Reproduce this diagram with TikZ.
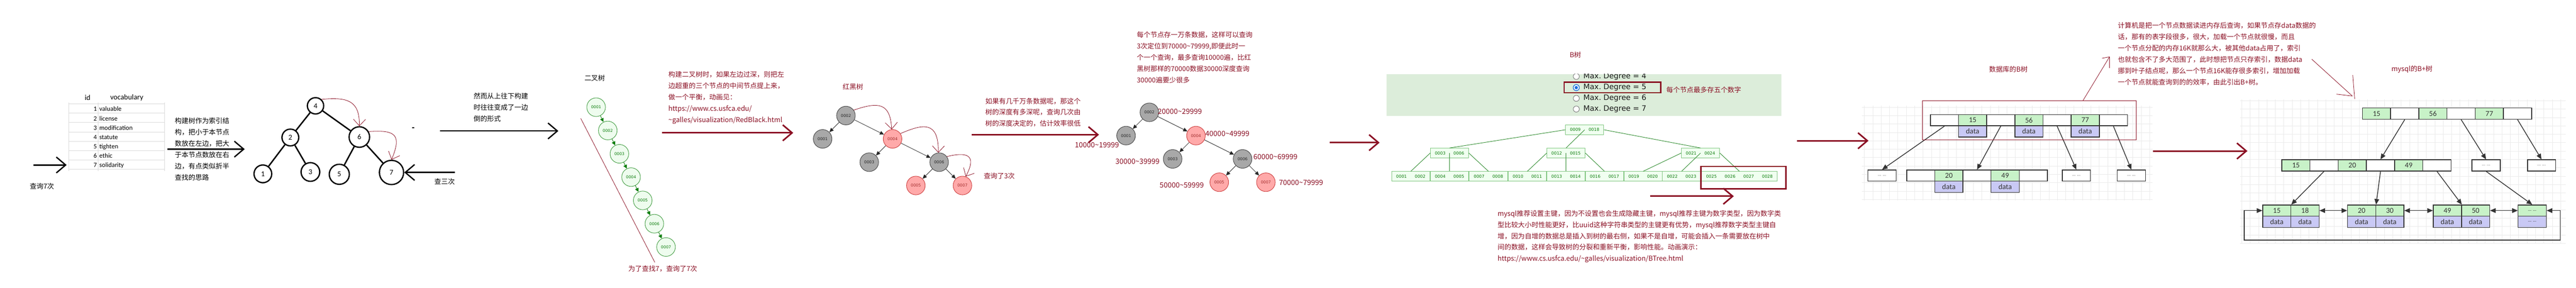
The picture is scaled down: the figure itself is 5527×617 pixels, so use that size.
\documentclass[tikz,border=0pt]{standalone}
\usepackage{fontspec}
\setmainfont{Noto Sans CJK SC}
\newfontfamily\carl{Carlito}
\newfontfamily\dvs{DejaVu Sans}
\usetikzlibrary{arrows.meta}
\definecolor{dr}{HTML}{8B1024}
\definecolor{gfill}{HTML}{EEFCEE}
\definecolor{gline}{HTML}{3C9A3C}
\definecolor{gtext}{HTML}{0B7D0B}
\definecolor{rbgray}{HTML}{A8A8A8}
\definecolor{rbred}{HTML}{FFA9A9}
\definecolor{rbredl}{HTML}{CC3A3A}
\definecolor{panel}{HTML}{DCEDDA}
\definecolor{bfill}{HTML}{F0FFF0}
\definecolor{bline}{HTML}{80C680}
\definecolor{bedgec}{HTML}{2E8B2E}
\definecolor{kgreen}{HTML}{C8F2C8}
\definecolor{dlav}{HTML}{C9C9F5}
\definecolor{cellb}{HTML}{333333}
\definecolor{tabl}{HTML}{DADADA}
\definecolor{radiob}{HTML}{1A6FE0}
\newcommand\bk[1]{\makebox[40pt]{#1}}
\newcommand\paralines[5]{\foreach \tx [count=\i from 0] in {#5}{\node[ptxt,text=#4] (#1-\i) at (#2,{#3+24.3*\i}) {\tx};}}
\tikzset{
 ptxt/.style={inner sep=0pt, anchor=west, text height=12.6pt, text depth=2.2pt, font=\fontsize{14.6}{17}\selectfont},
 lbl/.style={inner sep=0pt, font=\fontsize{14.6}{17}\selectfont},
 rlbl/.style={lbl, text=dr},
 rng/.style={inner sep=0pt, anchor=west, text=dr, font=\fontsize{15.5}{18}\selectfont},
 karrow/.style={draw=black, line width=2.8pt, -{Straight Barb[length=20pt,width=34pt]}},
 rarrow/.style={draw=dr, line width=3.3pt, -{Straight Barb[length=20pt,width=34pt]}},
 thinr/.style={draw=dr, line width=0.9pt},
 rcurve/.style={draw=dr, line width=0.9pt, -{Straight Barb[length=14pt,width=26pt]}},
 tnode/.style={circle, draw=black, line width=2.8pt, inner sep=0pt, minimum size=#1, font=\carl\fontsize{16}{16}\selectfont},
 tedge/.style={draw=black, line width=3pt},
 hdr/.style={inner sep=0pt, font=\carl\fontsize{16}{18}\selectfont},
 tcell/.style={inner sep=0pt, text height=9.5pt, text depth=0pt, font=\carl\fontsize{14}{16}\selectfont},
 tline/.style={draw=tabl, line width=1pt},
 chain/.style={circle, draw=gline, fill=gfill, line width=1pt, minimum size=40pt, inner sep=0pt, text=gtext, font=\dvs\fontsize{8.5}{9}\selectfont},
 carrow/.style={draw=gtext, line width=1pt, -{Triangle[length=8pt,width=8pt]}},
 rbg/.style={circle, draw=black!75, fill=rbgray, line width=1pt, minimum size=40pt, inner sep=0pt, text=black!85, font=\dvs\fontsize{8.5}{9}\selectfont},
 rbr/.style={rbg, draw=rbredl, fill=rbred, text=rbredl!80!black},
 rbe/.style={draw=black!85, line width=0.9pt, -{Triangle[length=9pt,width=8pt]}},
 radio/.style={circle, draw=black!55, fill=white, line width=1pt, minimum size=13pt, inner sep=0pt},
 radtxt/.style={inner sep=0pt, anchor=west, text=black!90, font=\dvs\fontsize{16}{18}\selectfont},
 bt/.style={draw=bline, fill=bfill, line width=1pt, inner xsep=1pt, inner ysep=0pt, minimum height=21pt, text=gtext, font=\dvs\fontsize{9}{10}\selectfont},
 bedge/.style={draw=bedgec, line width=1pt},
 redbox/.style={draw=dr, line width=3.2pt},
 gridl/.style={draw=black!8, line width=0.8pt},
 dcell/.style={draw=cellb, line width=1.6pt, minimum width=60.4pt, minimum height=24pt, inner sep=0pt, anchor=north west, text=black!80, font=\carl\fontsize{16}{16}\selectfont},
 kc/.style={dcell, fill=kgreen},
 dc/.style={dcell, fill=dlav},
 wc/.style={dcell, fill=white},
 dots/.style={wc, font=\carl\fontsize{10}{10}\selectfont, text=black!60},
 dar/.style={draw=cellb, line width=1.6pt, -{Triangle[length=12pt,width=10pt]}},
 dar2/.style={draw=cellb, line width=1.6pt, {Triangle[length=12pt,width=10pt]}-{Triangle[length=12pt,width=10pt]}}
}
\begin{document}
\begin{tikzpicture}[x=1pt,y=-1pt]
\useasboundingbox (0,0) rectangle (5527,617);
\fill[white] (0,0) rectangle (5527,617);

% ---------------- table ----------------
\foreach \yy in {223,243,...,363} \draw[tline] (147,\yy) -- (353,\yy);
\foreach \xx in {147,211,353} \draw[tline] (\xx,220) -- (\xx,367);
\node[hdr] (hid) at (188,210) {id};
\node[hdr] (hvoc) at (272,210) {vocabulary};
\foreach \nn/\ww [count=\i from 0] in {1/valuable,2/license,3/modification,4/statute,5/tighten,6/ethic,7/solidarity}{
  \node[tcell,anchor=east] (tn\nn) at (208,{234+20*\i}) {\nn};
  \node[tcell,anchor=west] (tw\nn) at (213,{234+20*\i}) {\ww};}
\coordinate (a1s) at (72,354); \coordinate (a1e) at (143,354);
\draw[karrow] (a1s) -- (a1e);
\node[lbl] (q7) at (90,400) {查询7次};

% ---------------- BST ----------------
\paralines{pbst}{375}{260}{black}{构建树作为索引结,构，把小于本节点,数放在左边，把大,于本节点数放在右,边，有点类似折半,查找的思路}
\coordinate (a2s) at (359,320); \coordinate (a2e) at (525,320);
\draw[karrow] (a2s) -- (a2e);
\node[tnode=35pt] (n4) at (677,227) {4};
\node[tnode=36pt] (n2) at (623,295) {2};
\node[tnode=44pt] (n6) at (771,294) {6};
\node[tnode=38pt] (n1) at (564,373) {1};
\node[tnode=40pt] (n3) at (666,369) {3};
\node[tnode=43pt] (n5) at (728,374) {5};
\node[tnode=52pt] (n7) at (840,370) {7};
\foreach \a/\b in {4/2,4/6,2/1,2/3,6/5,6/7} \draw[tedge] (n\a) -- (n\b);
\draw[rcurve] (n4.47) .. controls (745,208) and (772,215) .. (n6.north);
\draw[rcurve] (n6.30) .. controls (850,278) and (862,290) .. (n7.north);
\fill (884,272.5) rectangle (889,275.5);
\coordinate (a3s) at (976,370);
\draw[karrow] (a3s) -- (n7.east);
\node[lbl] (q3) at (954,390) {查三次};

% ---------------- degenerate chain ----------------
\paralines{ptop}{1016}{206}{black}{然而从上往下构建,时往往变成了一边,倒的形式}
\coordinate (a4s) at (944,281); \coordinate (a4e) at (1198,281);
\draw[karrow] (a4s) -- (a4e);
\node[lbl] (bt2) at (1276,168) {二叉树};
\foreach \k in {1,...,7} \node[chain] (c\k) at ({1279+25*(\k-1)},{230+50*(\k-1)}) {000\k};
\foreach \a/\b in {1/2,2/3,3/4,4/5,5/6,6/7} \draw[carrow] (c\a) -- (c\b);
\coordinate (rl1) at (1246,254); \coordinate (rl2) at (1405,563);
\draw[thinr] (rl1) -- (rl2);
\node[rlbl] (q77) at (1422,577) {为了查找7，查询了7次};

% ---------------- red-black tree 1 ----------------
\paralines{prb}{1434}{160}{dr}{构建二叉树时，如果左边过深，则把左,边超重的三个节点的中间节点提上来，,做一个平衡，动画见：,https://www.cs.usfca.edu/,\textasciitilde galles/visualization/RedBlack.html}
\coordinate (a5s) at (1420,285); \coordinate (a5e) at (1702,285);
\draw[rarrow] (a5s) -- (a5e);
\node[rlbl] (rbt) at (1830,186) {红黑树};
\node[rbg] (r2) at (1815,248) {0002};
\node[rbg] (r1) at (1765,298) {0001};
\node[rbr] (r4) at (1915,298) {0004};
\node[rbg] (r3) at (1865,348) {0003};
\node[rbg] (r6) at (2015,348) {0006};
\node[rbr] (r5) at (1965,398) {0005};
\node[rbr] (r7) at (2065,398) {0007};
\draw[rcurve] (r2.35) .. controls (1885,218) and (1910,220) .. (r4.95);
\draw[rcurve] (r4.34) .. controls (1980,266) and (2014,258) .. (r6.95);
\draw[rcurve] (r6.36) .. controls (2072,326) and (2098,330) .. (r7.70);
\node[rlbl] (q3b) at (2144,377) {查询了3次};

% ---------------- red-black tree 2 ----------------
\coordinate (a6s) at (2085,289); \coordinate (a6e) at (2358,289);
\draw[rarrow] (a6s) -- (a6e);
\paralines{pdeep}{2114}{217}{dr}{如果有几千万条数据呢，那这个,树的深度有多深呢，查询几次由,树的深度决定的，估计效率很低}
\paralines{pten}{2439}{75}{dr}{每个节点存一万条数据，这样可以查询,{3次定位到70000\textasciitilde 79999,即便此时一},个一个查询，最多查询10000遍，比红,黑树那样的70000数据30000深度查询,30000遍要少很多}
\node[rbg] (s2) at (2466,241) {0002};
\node[rbg] (s1) at (2416,291) {0001};
\node[rbr] (s4) at (2566,291) {0004};
\node[rbg] (s3) at (2516,341) {0003};
\node[rbg] (s6) at (2666,341) {0006};
\node[rbr] (s5) at (2616,391) {0005};
\node[rbr] (s7) at (2716,391) {0007};
\foreach \a/\b in {2/1,2/4,4/3,4/6,6/5,6/7} {\draw[rbe] (r\a) -- (r\b); \draw[rbe] (s\a) -- (s\b);}
\node[rng] (g2) at (2484,239) {20000\textasciitilde 29999};
\node[rng] (g1) at (2306,311) {10000\textasciitilde 19999};
\node[rng] (g3) at (2393,346) {30000\textasciitilde 39999};
\node[rng] (g4) at (2586,287) {40000\textasciitilde 49999};
\node[rng] (g5) at (2488,397) {50000\textasciitilde 59999};
\node[rng] (g6) at (2689,337) {60000\textasciitilde 69999};
\node[rng] (g7) at (2744,392) {70000\textasciitilde 79999};
\coordinate (a7s) at (2853,306); \coordinate (a7e) at (2960,306);
\draw[rarrow] (a7s) -- (a7e);

% ---------------- B tree ----------------
\node[rlbl] (btl) at (3380,118) {B树};
\begin{scope}
\clip (2975,159) rectangle (3822,249);
\fill[panel] (2975,159) rectangle (3822,249);
\foreach \d/\yy in {4/164,5/188,6/211,7/234}{
  \node[radio] (o\d) at (3382,\yy) {};
  \node[radtxt] (ot\d) at (3397,\yy) {Max.\ Degree = \d};}
\node[circle, draw=radiob, fill=white, line width=1.4pt, minimum size=13pt, inner sep=0pt] (o5b) at (o5) {};
\node[circle, fill=radiob, minimum size=7pt, inner sep=0pt] (o5c) at (o5) {};
\end{scope}
\draw[redbox] (3356,176) rectangle (3563,199);
\node[ptxt, text=dr] (max5) at (3575,193) {每个节点最多存五个数字};
\node[bt] (R) at (3400,278.5) {\bk{0009}\bk{0018}};
\node[bt] (I1) at (3110,328.5) {\bk{0003}\bk{0006}};
\node[bt] (I2) at (3360,328.5) {\bk{0012}\bk{0015}};
\node[bt] (I3) at (3648.5,328.5) {\bk{0021}\bk{0024}};
\foreach \nm/\xx/\ka/\kb in {L1/3027/0001/0002,L2/3110/0004/0005,L3/3193.5/0007/0008,L4/3277/0010/0011,L5/3360/0013/0014,L6/3442.5/0016/0017,L7/3525.5/0019/0020,L8/3608/0022/0023}
  \node[bt] (\nm) at (\xx,378.5) {\bk{\ka}\bk{\kb}};
\node[bt] (L9) at (3732,378.5) {\bk{0025}\bk{0026}\bk{0027}\bk{0028}};
\draw[bedge] (R.west) -- (I1.north);
\draw[bedge] (R.center) -- (I2.north);
\draw[bedge] (R.east) -- (I3.north);
\draw[bedge] (I1.west) -- (L1.north);
\draw[bedge] (I1.center) -- (L2.north);
\draw[bedge] (I1.east) -- (L3.north);
\draw[bedge] (I2.west) -- (L4.north);
\draw[bedge] (I2.center) -- (L5.north);
\draw[bedge] (I2.east) -- (L6.north);
\draw[bedge] (I3.west) -- (L7.north);
\draw[bedge] (I3.center) -- (L8.north);
\draw[bedge] (I3.east) -- (L9.north);
\draw[redbox] (3649,357) rectangle (3832,405);
\coordinate (a8s) at (3540,421); \coordinate (a8e) at (3720,421);
\draw[rarrow] (a8s) -- (a8e);
\paralines{ppk}{3213}{458}{dr}{mysql推荐设置主键，因为不设置也会生成隐藏主键，mysql推荐主键为数字类型，因为数字类,型比较大小时性能更好，比uuid这种字符串类型的主键更有优势，mysql推荐数字类型主键自,增，因为自增的数据总是插入到树的最右侧，如果不是自增，可能会插入一条需要放在树中,间的数据，这样会导致树的分裂和重新平衡，影响性能。动画演示：,https://www.cs.usfca.edu/\textasciitilde galles/visualization/BTree.html}

% ---------------- database B tree ----------------
\coordinate (a9s) at (3856,302); \coordinate (a9e) at (4009,302);
\foreach \xx in {4000,4018,...,4618} \draw[gridl] (\xx,227) -- (\xx,430);
\foreach \yy in {230,248,...,430} \draw[gridl] (3995,\yy) -- (4618,\yy);
\draw[rarrow] (a9s) -- (a9e);
\node[rlbl] (dbl) at (4309,149) {数据库的B树};
\foreach \i/\tx/\st in {0//wc,1/15/kc,2//wc,3/56/kc,4//wc,5/77/kc,6//wc}
  \node[\st] (d\i) at ({4141+60.4*\i},245) {\tx};
\foreach \i in {1,3,5} \node[dc] (dd\i) at ({4141+60.4*\i},269) {data};
\foreach \i/\tx/\st in {0//wc,1/20/kc,2//wc,3/49/kc,4//wc}
  \node[\st] (e\i) at ({4090+60.4*\i},364) {\tx};
\foreach \i in {1,3} \node[dc] (ee\i) at ({4090+60.4*\i},388) {data};
\node[dots] (f0) at (4007,364) {... ...};
\node[dots] (f1) at (4424,364) {... ...};
\node[dots] (f2) at (4542,364) {... ...};
\draw[dar] (d0.south) -- (f0.north);
\draw[dar] (d2.south) -- (e2.north);
\draw[dar] (d4.south) -- (f1.north);
\draw[dar] (d6.south) -- (f2.north);
\draw[thinr] (4125,216) rectangle (4583,300);
\coordinate (dbA) at (4469,216); \coordinate (dbT) at (4526,122);
\coordinate (dbH1) at (4510,125); \coordinate (dbH2) at (4526,146);
\draw[thinr] (dbA) -- (dbT);
\draw[thinr] (dbH1) -- (dbT) -- (dbH2);
\paralines{pdb}{4544}{55}{dr}{计算机是把一个节点数据读进内存后查询，如果节点存data数据的,话，那有的表字段很多，很大，加载一个节点就很慢，而且,一个节点分配的内存16K就那么大，被其他data占用了，索引,也就包含不了多大范围了，此时想把节点只存索引，数据data,挪到叶子结点呢，那么一个节点16K能存很多索引，增加加载,一个节点就能查询到的的效率，由此引出B+树。}
\coordinate (a10s) at (4619,324); \coordinate (a10e) at (4822,324);

% ---------------- B+ tree ----------------
\foreach \xx in {4810,4828,...,5505} \draw[gridl] (\xx,213) -- (\xx,523);
\foreach \yy in {216,234,...,523} \draw[gridl] (4806,\yy) -- (5505,\yy);
\draw[rarrow] (a10s) -- (a10e);
\coordinate (bpA) at (4960,127); \coordinate (bpT) at (5047,206);
\coordinate (bpH1) at (5013,202); \coordinate (bpH2) at (5048,161); \coordinate (bpH3) at (5052,212);
\draw[thinr] (bpA) -- (bpT);
\draw[thinr] (bpH1) -- (bpT);
\draw[thinr] (bpH2) -- (bpH3);
\node[rlbl] (bpl) at (5175,149) {mysql的B+树};
\foreach \i/\tx/\st in {0/15/kc,1//wc,2/56/kc,3//wc,4/77/kc,5//wc}
  \node[\st] (b\i) at ({5068+60.5*\i},231) {\tx};
\foreach \i/\tx/\st in {0/15/kc,1//wc,2/20/kc,3//wc,4/49/kc,5//wc}
  \node[\st] (m\i) at ({4895+60.5*\i},342) {\tx};
\node[dots] (g1) at (5303,342) {... ...};
\node[dots] (g2b) at (5422,342) {... ...};
\node[kc] (p10) at (4854,439) {15};
\node[kc] (p11) at (4914.5,439) {18};
\node[kc] (p20) at (5036,439) {20};
\node[kc] (p21) at (5096.5,439) {30};
\node[kc] (p30) at (5220,439) {49};
\node[kc] (p31) at (5280.5,439) {50};
\node[kc, font=\carl\fontsize{10}{10}\selectfont] (p40) at (5402,439) {... ...};
\node[dc] (q10) at (4854,463) {data};
\node[dc] (q11) at (4914.5,463) {data};
\node[dc] (q20) at (5036,463) {data};
\node[dc] (q21) at (5096.5,463) {data};
\node[dc] (q30) at (5220,463) {data};
\node[dc] (q31) at (5280.5,463) {data};
\node[dc, font=\carl\fontsize{10}{10}\selectfont] (q40) at (5402,463) {... ...};
\draw[dar] (b1.south) -- (m3.north);
\draw[dar] (b3.south) -- (g1.north);
\draw[dar] (b5.south) -- (g2b.north);
\draw[dar] (m1.south) -- (p10.north east);
\draw[dar] (m3.south) -- (p20.north east);
\draw[dar] (m5.south) -- (p30.north east);
\draw[dar] (g1.south) -- (p40.north);
\draw[dar2] (p11.east) -- (p20.west);
\draw[dar2] (p21.east) -- (p30.west);
\draw[dar2] (p31.east) -- (p40.west);
\coordinate (lpL) at (4815,515); \coordinate (lpR) at (5493,515);
\draw[dar2] (p10.west) -| (lpL) -- (lpR) |- (p40.east);
\end{tikzpicture}
\end{document}
